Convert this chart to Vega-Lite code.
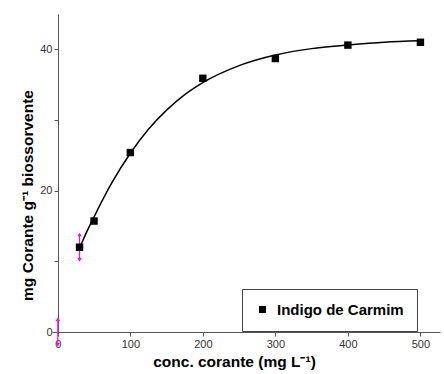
{
  "$schema": "https://vega.github.io/schema/vega-lite/v6.json",
  "autosize": {"type": "none"},
  "width": 388,
  "height": 318,
  "padding": {"left": 52, "top": 14, "right": 4, "bottom": 42},
  "background": "white",
  "config": {
    "view": {"stroke": null},
    "font": "Liberation Sans",
    "axis": {
      "grid": false,
      "domainColor": "#555",
      "tickColor": "#555",
      "labelColor": "#333",
      "labelFont": "Liberation Sans",
      "labelFontSize": 11,
      "titleFont": "Liberation Sans",
      "titleFontSize": 15.5,
      "titleFontWeight": "bold",
      "titleColor": "#000",
      "tickSize": 4
    }
  },
  "datasets": {
    "pts": [
      {"c": 30, "q": 12.0, "series": "Indigo de Carmim"},
      {"c": 50, "q": 15.7, "series": "Indigo de Carmim"},
      {"c": 100, "q": 25.4, "series": "Indigo de Carmim"},
      {"c": 200, "q": 35.9, "series": "Indigo de Carmim"},
      {"c": 300, "q": 38.7, "series": "Indigo de Carmim"},
      {"c": 400, "q": 40.6, "series": "Indigo de Carmim"},
      {"c": 500, "q": 41.0, "series": "Indigo de Carmim"}
    ],
    "curve": [
      {"c": 31, "q": 12.1},
      {"c": 40, "q": 14.2},
      {"c": 50, "q": 16.3},
      {"c": 75, "q": 21.2},
      {"c": 100, "q": 25.3},
      {"c": 125, "q": 28.7},
      {"c": 150, "q": 31.4},
      {"c": 175, "q": 33.6},
      {"c": 200, "q": 35.3},
      {"c": 250, "q": 37.7},
      {"c": 300, "q": 39.2},
      {"c": 350, "q": 40.1},
      {"c": 400, "q": 40.6},
      {"c": 450, "q": 41.0},
      {"c": 500, "q": 41.2}
    ],
    "err": [
      {"c": 30, "lo": 10.2, "hi": 13.8},
      {"c": 0, "lo": -1.8, "hi": 1.8}
    ]
  },
  "layer": [
    {
      "data": {"name": "curve"},
      "mark": {"type": "line", "color": "#000", "strokeWidth": 1.5, "interpolate": "monotone"},
      "encoding": {
        "x": {
          "field": "c", "type": "quantitative",
          "scale": {"domain": [-8, 527], "nice": false, "zero": false},
          "axis": {
            "title": "conc. corante (mg L⁻¹)",
            "values": [0, 50, 100, 150, 200, 250, 300, 350, 400, 450, 500],
            "labelExpr": "datum.value % 100 == 0 ? datum.label : ''",
            "titleX": 182,
            "titleAlign": "center",
            "titlePadding": 5
          }
        },
        "y": {
          "field": "q", "type": "quantitative",
          "scale": {"domain": [0, 45], "nice": false},
          "axis": {
            "title": "mg Corante g⁻¹ biossorvente",
            "values": [0, 10, 20, 30, 40],
            "labelExpr": "datum.value % 20 == 0 ? datum.label : ''",
            "offset": -6,
            "titlePadding": 4,
            "titleY": 181
          }
        }
      }
    },
    {
      "data": {"name": "err"},
      "mark": {"type": "rule", "color": "#ff00ff", "strokeWidth": 1.2, "clip": false},
      "encoding": {
        "x": {"field": "c", "type": "quantitative"},
        "y": {"field": "lo", "type": "quantitative"},
        "y2": {"field": "hi"}
      }
    },
    {
      "data": {"name": "err"},
      "mark": {"type": "point", "shape": "triangle-up", "filled": true, "color": "#ff00ff", "size": 18, "opacity": 1, "clip": false},
      "encoding": {
        "x": {"field": "c", "type": "quantitative"},
        "y": {"field": "hi", "type": "quantitative"}
      }
    },
    {
      "data": {"name": "err"},
      "mark": {"type": "point", "shape": "triangle-down", "filled": true, "color": "#ff00ff", "size": 18, "opacity": 1, "clip": false},
      "encoding": {
        "x": {"field": "c", "type": "quantitative"},
        "y": {"field": "lo", "type": "quantitative"}
      }
    },
    {
      "data": {"name": "pts"},
      "mark": {"type": "point", "shape": "square", "filled": true, "size": 55, "opacity": 1},
      "encoding": {
        "x": {"field": "c", "type": "quantitative"},
        "y": {"field": "q", "type": "quantitative"},
        "color": {
          "field": "series", "type": "nominal",
          "scale": {"range": ["#000000"]},
          "legend": {
            "title": null,
            "orient": "none",
            "legendX": 190,
            "legendY": 275,
            "strokeColor": "#444",
            "fillColor": "white",
            "padding": 13,
            "symbolType": "square",
            "symbolSize": 50,
            "symbolStrokeWidth": 0,
            "labelFont": "Liberation Sans",
            "labelFontSize": 15,
            "labelFontWeight": "bold",
            "labelColor": "#000",
            "labelOffset": 7
          }
        }
      }
    }
  ]
}
